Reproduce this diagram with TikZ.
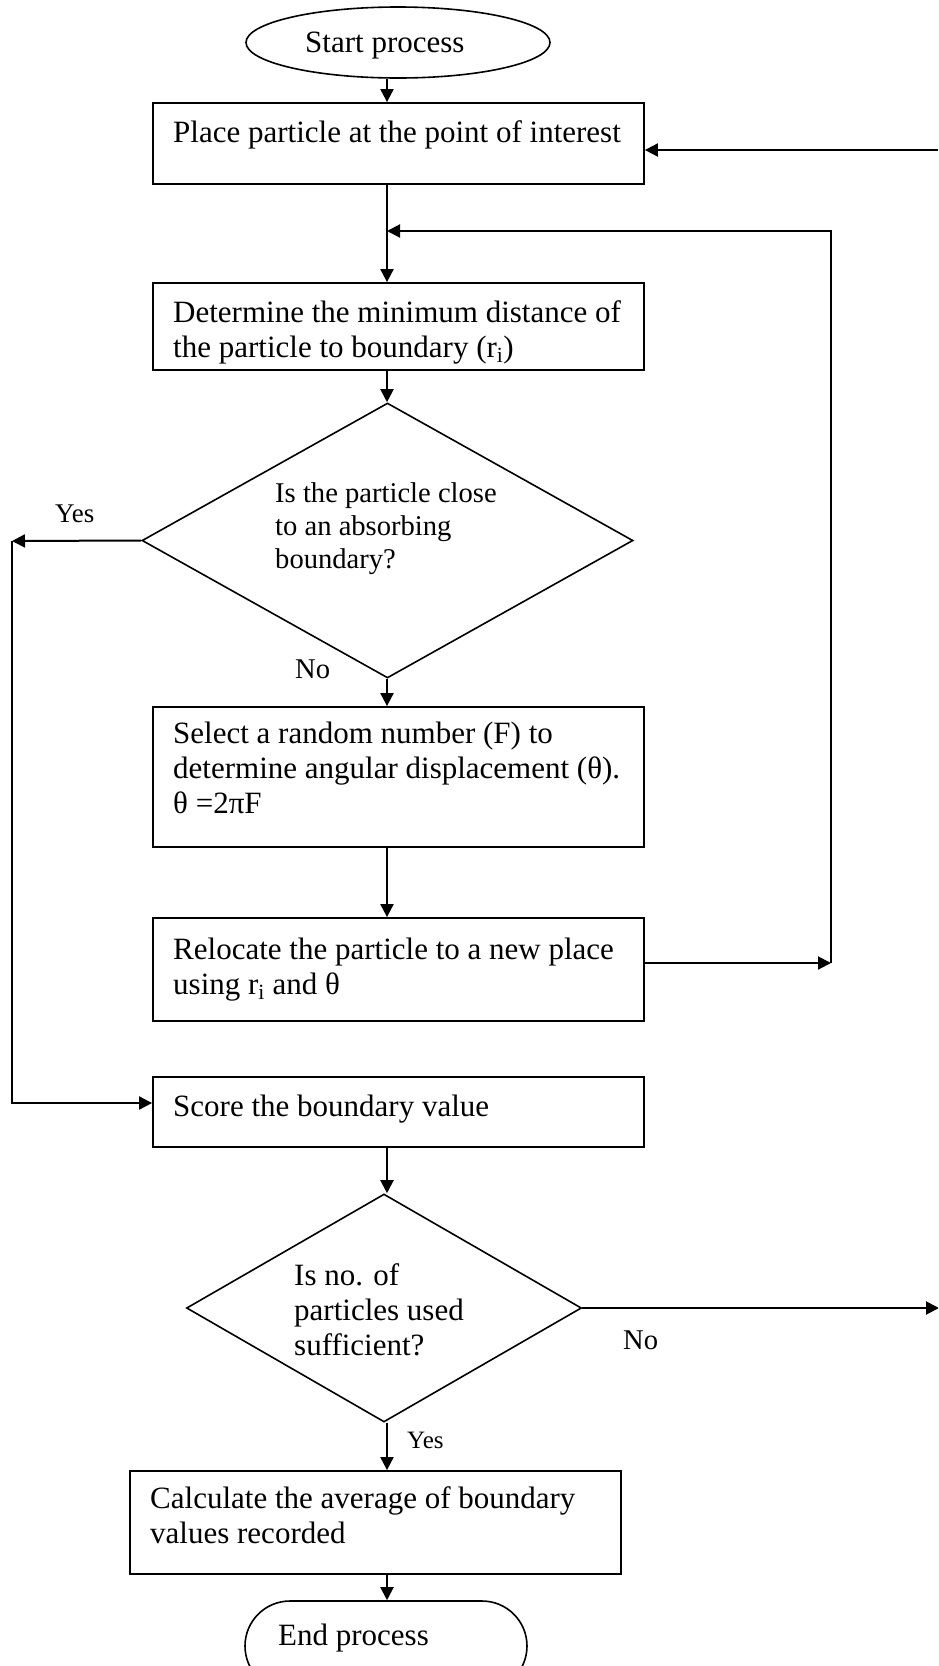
\documentclass[tikz,border=0pt]{standalone}
\usepackage{fontspec}
\setmainfont{Liberation Serif}
\usetikzlibrary{shapes.geometric,arrows.meta}

\tikzset{
  flow/.style={line width=2pt, -{Triangle[length=13pt,width=13pt]}},
  stepbox/.style={draw, rectangle, line width=1.8pt, inner sep=0pt, minimum width=491pt},
  decision/.style={draw, diamond, line width=1.6pt, inner sep=0pt},
  terminal/.style={draw, line width=1.6pt, inner sep=0pt},
  boxtext/.style={anchor=base west, align=left, inner sep=0pt, font=\fontsize{31}{35}\selectfont},
  tag/.style={anchor=base west, inner sep=0pt, font=\fontsize{28.6}{33}\selectfont},
}

\begin{document}
\begin{tikzpicture}[x=1pt, y=-1pt]
\useasboundingbox (0,0) rectangle (938,1666);
\clip (0,0) rectangle (938,1666);

\coordinate (axis) at (387,0);

% shapes
\node[terminal, ellipse, minimum width=304pt, minimum height=71pt] (start) at (398,42.5) {};
\node[stepbox, minimum height=81pt] (place) at (398.5,143.5) {};
\node[stepbox, minimum height=87pt] (mindist) at (398.5,326.5) {};
\node[decision, minimum width=491pt, minimum height=275pt] (absorb) at (387.5,540.5) {};
\node[stepbox, minimum height=140pt] (angle) at (398.5,777) {};
\node[stepbox, minimum height=103pt] (relocate) at (398.5,969.5) {};
\node[stepbox, minimum height=70pt] (score) at (398.5,1112) {};
\node[decision, minimum width=395pt, minimum height=228pt] (enough) at (384,1308) {};
\node[stepbox, minimum height=103pt] (average) at (375.5,1522.5) {};
\node[terminal, rounded corners=45pt, minimum width=282pt, minimum height=90pt] (stop) at (386,1646) {};

% texts (base = last line)
\node[boxtext] (starttext) at (305,52) {Start process};
\node[boxtext] (placetext) at (173,142) {Place particle at the point of interest};
\node[boxtext] (mindisttext) at (173,357) {Determine the minimum distance of\\the particle to boundary (r\textsubscript{i})};
\node[boxtext, font=\fontsize{28.6}{33}\selectfont] (absorbtext) at (275,568) {Is the particle close\\to an absorbing\\boundary?};
\node[boxtext] (angletext) at (173,813) {Select a random number (F) to\\determine angular displacement (θ).\\θ =2πF};
\node[boxtext] (relocatetext) at (173,994) {Relocate the particle to a new place\\using r\textsubscript{i} and θ};
\node[boxtext] (scoretext) at (173,1116) {Score the boundary value};
\node[boxtext] (enoughtext) at (294,1355) {Is no. of\\particles used\\sufficient?};
\node[boxtext] (averagetext) at (150,1543) {Calculate the average of boundary\\values recorded};
\node[boxtext] (stoptext) at (278,1645) {End process};

% branch labels
\node[tag, font=\fontsize{27}{30}\selectfont] (yestop) at (55,522) {Yes};
\node[tag] (notop) at (295,678) {No};
\node[tag] (noright) at (623,1349) {No};
\node[tag, font=\fontsize{25}{28}\selectfont] (yesbottom) at (407,1448) {Yes};

% main line
\draw[flow] (start.south -| axis) -- (place.north -| axis);
\foreach \a/\b in {place/mindist, mindist/absorb, absorb/angle, angle/relocate,
                   score/enough, enough/average, average/stop}
  \draw[flow] (\a.south -| axis) -- (\b.north -| axis);

% loop back after relocation
\coordinate (loopright) at (831,963);
\coordinate (loopback) at (831,231);
\draw[flow] (relocate.east |- loopright) -- (loopright);
\draw[flow] (loopright) -- (loopback) -- (loopback -| axis);

% absorbing boundary reached
\coordinate (yesleft) at (12,541);
\coordinate (yesdown) at (12,1103);
\draw[flow] (absorb.west) -- (yesleft);
\draw[flow] (yesleft) -- (yesdown) -- (yesdown -| score.west);

% next particle
\coordinate (retin) at (938,150);
\coordinate (retout) at (939,1308);
\draw[flow] (retin) -- (retin -| place.east);
\draw[flow] (enough.east) -- (retout);

\end{tikzpicture}
\end{document}
